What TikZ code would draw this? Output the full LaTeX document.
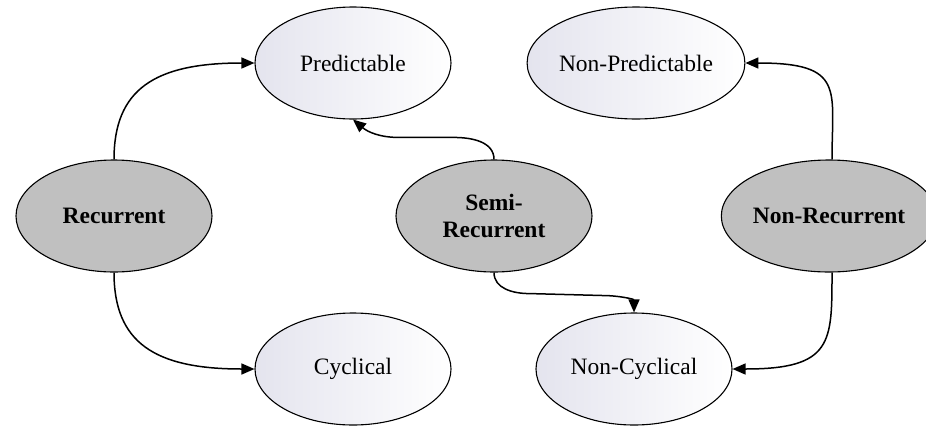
\documentclass[tikz,border=0pt]{standalone}
\usepackage{fontspec}
\setmainfont{Liberation Serif}
\usetikzlibrary{shapes.geometric,arrows.meta}
\definecolor{corefill}{HTML}{C0C0C0}
\definecolor{lavender}{HTML}{E4E4EE}
\begin{document}
\begin{tikzpicture}[x=1pt,y=1pt,
  base/.style={ellipse, draw=black, line width=1.1pt, minimum width=196pt,
    minimum height=112pt, inner sep=0pt, align=center,
    font=\fontsize{23.5}{27}\selectfont},
  kind/.style={base, fill=corefill, font=\fontsize{23.5}{27}\selectfont\bfseries},
  trait/.style={base, left color=lavender, right color=white},
  conn/.style={draw=black, line width=1.5pt, -{Triangle[length=13pt,width=11pt]}}]
\useasboundingbox (0,0) rectangle (926,-426);

% outcome categories
\node[trait] (pred)   at (353,-63)  {Predictable};
\node[trait] (npred)  at (636,-63)  {Non-Predictable};
\node[trait] (cyc)    at (353,-369) {Cyclical};
\node[trait] (ncyc)   at (634,-369) {Non-Cyclical};

% event types
\node[kind] (rec)  at (114,-216) {Recurrent};
\node[kind] (semi) at (494,-216) {Semi-\\Recurrent};
\node[kind] (nrec) at (829,-216) {Non-Recurrent};

% links
\draw[conn] (rec.north) .. controls +(90:70) and +(180:100) .. (pred.west);
\draw[conn] (rec.south) .. controls +(-90:70) and +(180:100) .. (cyc.west);
\draw[conn] ([xshift=3pt]nrec.north) .. controls +(90:70) and +(0:100) .. (npred.east);
\draw[conn] ([xshift=3pt]nrec.south) .. controls +(-90:70) and +(0:100) .. (ncyc.east);
\draw[conn] (semi.north) to[out=90,in=0] ++(-40,22) -- ++(-55,0)
  to[out=180,in=-40] (pred.south);
\draw[conn] (semi.south) to[out=-90,in=180] ++(35,-21) -- ++(75,-2)
  to[out=0,in=90] (ncyc.north);
\end{tikzpicture}
\end{document}
